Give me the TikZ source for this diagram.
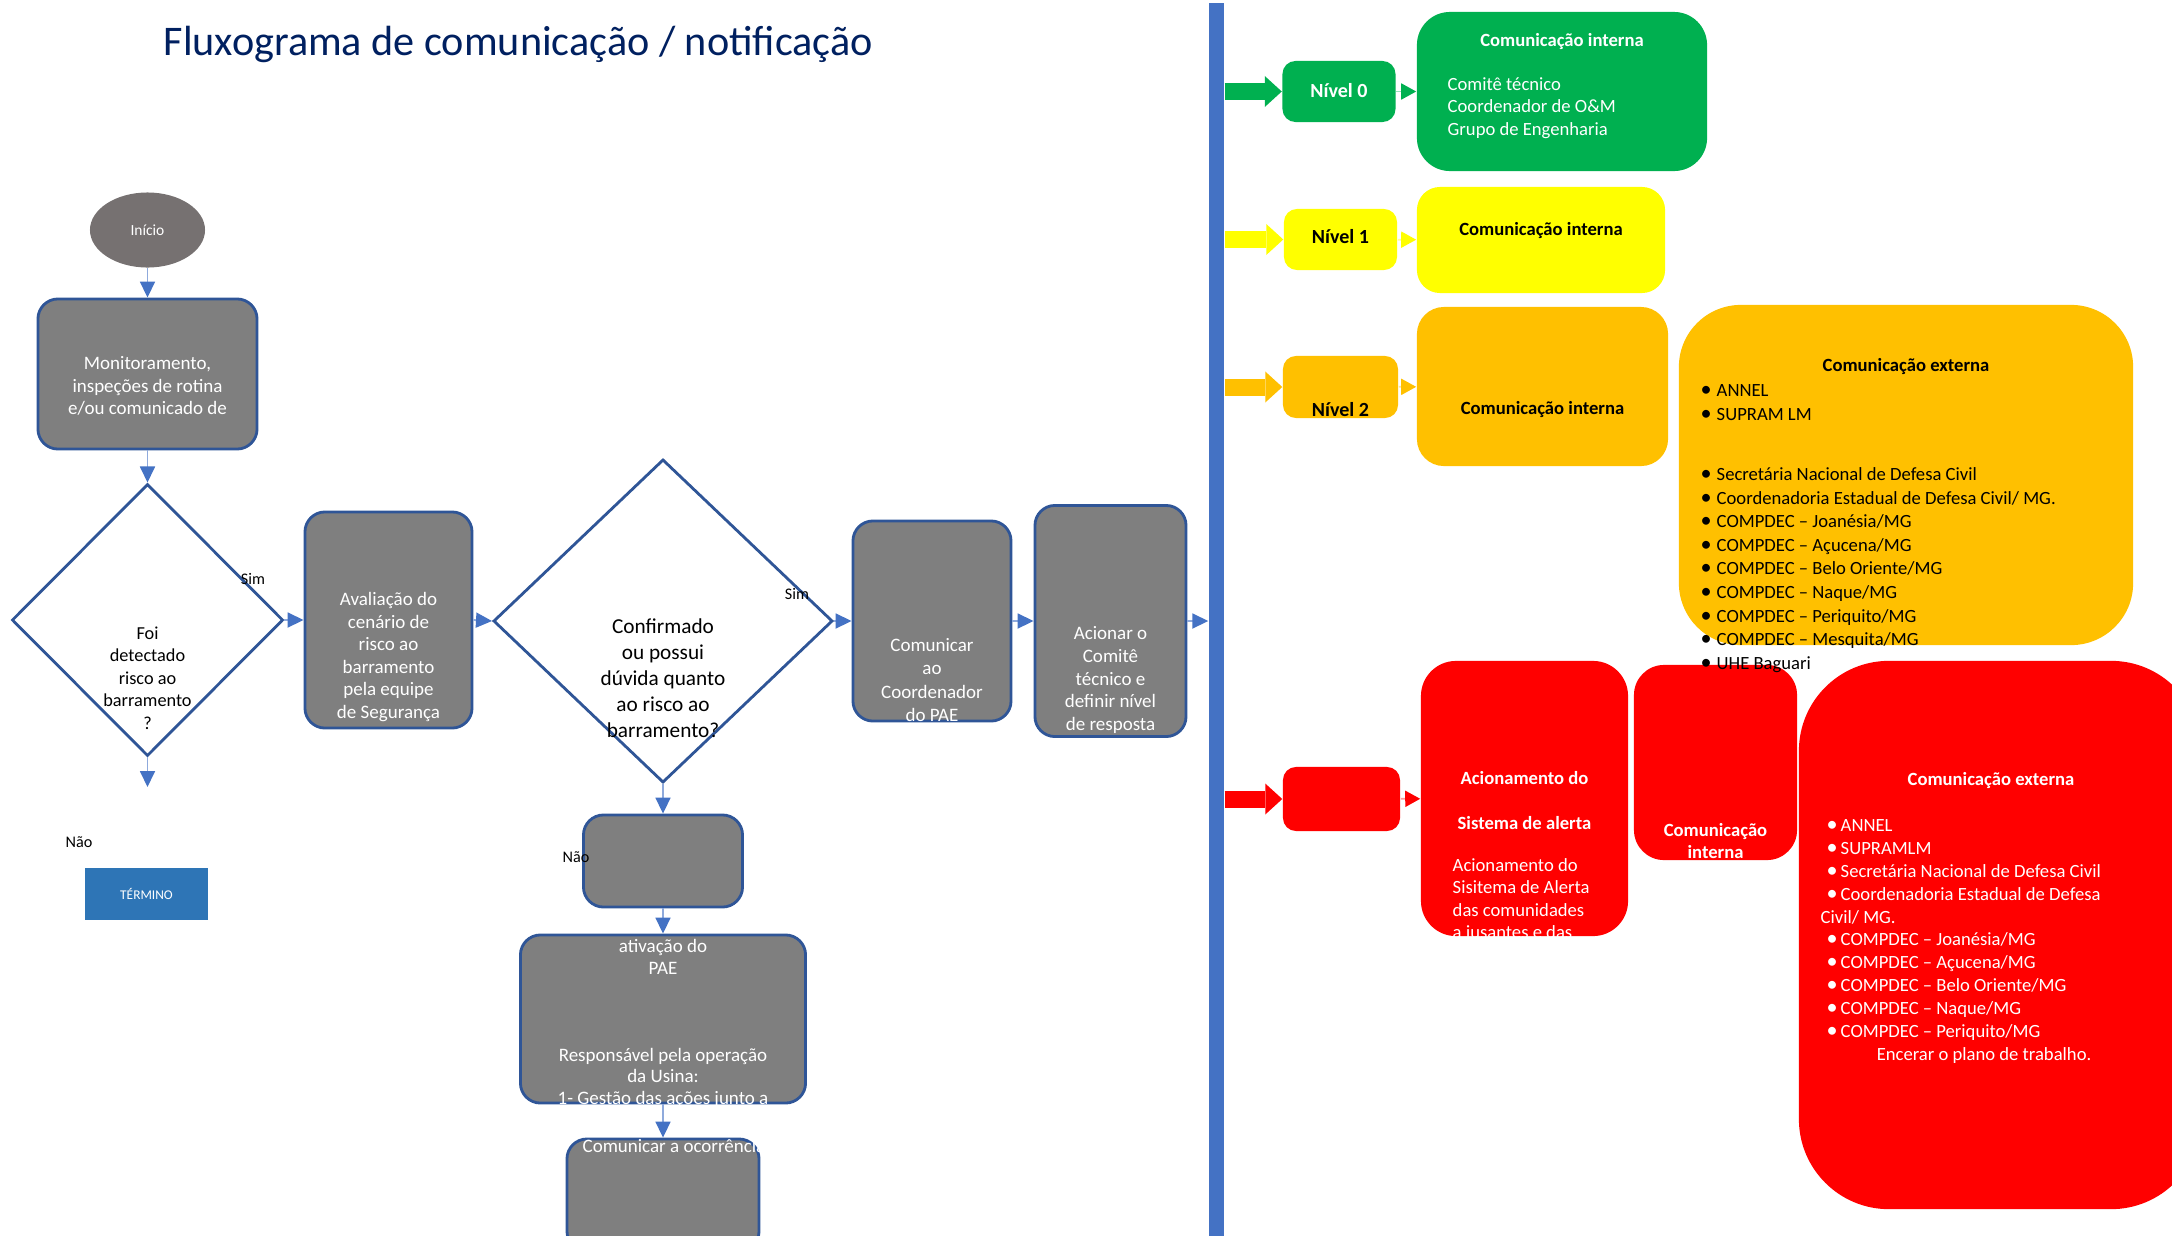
\documentclass[tikz,border=0pt]{standalone}
\usepackage{fontspec}
\setmainfont{Carlito}
\usepackage{xcolor}
\usepackage{tikz}
\usetikzlibrary{shapes.geometric, arrows.meta}
\definecolor{boxgray}{HTML}{7F7F7F}
\definecolor{startgray}{HTML}{767171}
\definecolor{boxline}{HTML}{2F5597}
\definecolor{flowblue}{HTML}{4472C4}
\definecolor{endblue}{HTML}{2E75B6}
\definecolor{titleblue}{HTML}{002060}
\definecolor{lvlgreen}{HTML}{00B050}
\definecolor{lvlyellow}{HTML}{FFFF00}
\definecolor{lvlorange}{HTML}{FFC000}
\definecolor{lvlred}{HTML}{FF0000}
\newcommand{\txtsize}[2]{\fontsize{#1}{#2}\selectfont}
\newcommand{\bul}[1]{\makebox[#1][l]{{\fontsize{6.3}{6.3}\selectfont •}}}

\begin{document}
\begin{tikzpicture}[x=0.01cm, y=-0.01cm,
  box/.style={rectangle, draw=boxline, line width=0.8pt, fill=boxgray, rounded corners=0.2cm, inner sep=0},
  decision/.style={diamond, draw=boxline, line width=0.8pt, fill=white, inner sep=0},
  flow/.style={draw=flowblue!60, line width=0.5pt, -{Triangle[length=0.16cm, width=0.15cm, color=flowblue]}},
  wtxt/.style={text=white, align=center, inner sep=0, font=\txtsize{5.4}{6.5}},
  btxt/.style={text=black, align=center, inner sep=0},
  tag/.style={inner sep=0, font=\txtsize{4.6}{5}},
  lvlbox/.style={rectangle, fill=#1, rounded corners=0.13cm, inner sep=0, minimum width=1.13cm, minimum height=0.61cm},
  lvlarrow/.style={draw=#1, line width=0.17cm, -{Triangle[length=0.17cm, width=0.31cm, line width=0pt]}},
  lvllink/.style={draw=#1!40, line width=0.5pt, -{Triangle[length=0.15cm, width=0.16cm, color=#1]}},
  head/.style={inner sep=0, align=center, font=\bfseries\txtsize{5.3}{6.3}},
  list/.style={inner sep=0, align=left, anchor=west, font=\txtsize{5.3}{6.7}}]
  \path[use as bounding box, fill=white] (0,0) rectangle (2172,1236);

  \node[text=titleblue, anchor=base west, inner sep=0, font=\txtsize{12}{14}] (title) at (163,55) {Fluxograma de comunicação / notificação};

  \node[ellipse, fill=startgray, minimum width=1.15cm, minimum height=0.75cm, inner sep=0, text=white, font=\txtsize{4.4}{5}] (inicio) at (147.5,230) {Início};
  \node[box, minimum width=2.19cm, minimum height=1.5cm] (monit) at (147.5,374) {};
  \node[wtxt] (monitt) at (147.5,386) {Monitoramento,\\inspeções de rotina\\e/ou comunicado de};
  \node[decision, minimum width=2.71cm, minimum height=2.72cm] (dec1) at (147.5,620) {};
  \node[btxt, font=\txtsize{5.2}{6.4}] (dec1t) at (147.5,678) {Foi\\detectado\\risco ao\\barramento\\?};
  \node[tag] (sim1) at (253,579) {Sim};
  \coordinate (fim) at (147.5,787);
  \node[tag] (nao1) at (79,842) {Não};
  \node[rectangle, fill=endblue, minimum width=1.23cm, minimum height=0.52cm, inner sep=0, text=white, font=\txtsize{3.8}{4}] (termino) at (146.5,894) {TÉRMINO};

  \node[box, minimum width=1.67cm, minimum height=2.16cm] (aval) at (388.5,620) {};
  \node[wtxt, font=\txtsize{5.4}{6.4}] (avalt) at (388.5,657) {Avaliação do\\cenário de\\risco ao\\barramento\\pela equipe\\de Segurança};
  \node[decision, minimum width=3.39cm, minimum height=3.23cm] (dec2) at (663,621) {};
  \node[btxt, font=\txtsize{6.05}{7.4}] (dec2t) at (663,678) {Confirmado\\ou possui\\dúvida quanto\\ao risco ao\\barramento?};
  \node[tag] (sim2) at (797,594) {Sim};
  \node[box, minimum width=1.58cm, minimum height=2cm] (comun) at (932,621) {};
  \node[wtxt, font=\txtsize{5.4}{6.6}] (comunt) at (932,680) {Comunicar\\ao\\Coordenador\\do PAE};
  \node[box, minimum width=1.51cm, minimum height=2.31cm] (acion) at (1110.5,621) {};
  \node[wtxt] (aciont) at (1110.5,680) {Acionar o\\Comitê\\técnico e\\definir nível\\de resposta};

  \node[box, minimum width=1.59cm, minimum height=0.92cm] (empty) at (663,861) {};
  \node[tag] (nao2) at (576,857) {Não};
  \node[box, minimum width=2.85cm, minimum height=1.68cm] (pae) at (663,1019) {};
  \node[wtxt, font=\txtsize{5.4}{6.3}] (paet) at (663,957) {ativação do\\PAE};
  \node[wtxt, font=\txtsize{5.4}{6.1}] (paeresp) at (663,1078) {Responsável pela operação\\da Usina:\\1- Gestão das ações junto a};
  \node[box, minimum width=1.92cm, minimum height=1.12cm] (ocorr) at (663,1195) {};
  \node[wtxt] (ocorrt) at (674,1146) {Comunicar a ocorrência};

  \node[rectangle, fill=flowblue, minimum width=0.15cm, minimum height=12.33cm, inner sep=0] (bar) at (1216.5,619.5) {};

  \draw[flow] (inicio) -- (monit);
  \draw[flow] (monit) -- (dec1);
  \draw[flow] (dec1.east) -- (aval.west);
  \draw[flow] (dec1.south) -- (fim);
  \draw[flow] (aval.east) -- (dec2.west);
  \draw[flow] (dec2.east) -- (comun.west);
  \draw[flow] (comun.east) -- (acion.west);
  \draw[flow] (acion.east) -- (acion.east -| bar.west);
  \draw[flow] (dec2.south) -- (empty.north);
  \draw[flow] (empty.south) -- (pae.north);
  \draw[flow] (pae.south) -- (ocorr.north);

  \node[lvlbox=lvlgreen] (lvl0) at (1339,91.5) {};
  \node[head, text=white, font=\bfseries\txtsize{5.7}{6}] (lvl0t) at (1339,91) {Nível 0};
  \node[rectangle, fill=lvlgreen, rounded corners=0.33cm, minimum width=2.9cm, minimum height=1.59cm] (int0) at (1562,91.5) {};
  \node[head, text=white] (int0t) at (1562,42) {Comunicação interna};
  \node[list, text=white, font=\txtsize{5.3}{6.4}] (int0l) at (1447,108) {Comitê técnico\\Coordenador de O\&M\\Grupo de Engenharia};

  \node[lvlbox=lvlyellow] (lvl1) at (1340.5,239.5) {};
  \node[head, font=\bfseries\txtsize{5.7}{6}] (lvl1t) at (1340.5,237) {Nível 1};
  \node[rectangle, fill=lvlyellow, rounded corners=0.23cm, minimum width=2.48cm, minimum height=1.06cm] (int1) at (1541,240) {};
  \node[head] (int1t) at (1541,231) {Comunicação interna};

  \node[lvlbox=lvlorange, minimum width=1.15cm, minimum height=0.62cm] (lvl2) at (1340.5,387) {};
  \node[head, font=\bfseries\txtsize{5.7}{6}] (lvl2t) at (1340.5,410) {Nível 2};
  \node[rectangle, fill=lvlorange, rounded corners=0.27cm, minimum width=2.51cm, minimum height=1.59cm] (int2) at (1542.5,386.5) {};
  \node[head] (int2t) at (1542.5,410) {Comunicação interna};
  \node[rectangle, fill=lvlorange, rounded corners=0.62cm, minimum width=4.54cm, minimum height=3.4cm] (ext2) at (1906,475) {};

  \node[lvlbox=lvlred, minimum width=1.17cm, minimum height=0.64cm] (lvl3) at (1341.5,799) {};
  \node[rectangle, fill=lvlred, rounded corners=0.35cm, minimum width=2.07cm, minimum height=2.75cm] (alerta) at (1524.5,798.5) {};
  \node[head, text=white] (alertah1) at (1524.5,778) {Acionamento do};
  \node[head, text=white] (alertah2) at (1524.5,823) {Sistema de alerta};
  \node[list, text=white, font=\txtsize{5.3}{6.4}] (alertal) at (1452,900) {Acionamento do\\Sisitema de Alerta\\das comunidades\\a jusantes e das};
  \node[rectangle, fill=lvlred, rounded corners=0.3cm, minimum width=1.63cm, minimum height=1.95cm] (int3) at (1715.5,762.5) {};
  \node[head, text=white, font=\bfseries\txtsize{5.3}{6.2}] (int3t) at (1715.5,841) {Comunicação\\interna};
  \node[rectangle, fill=lvlred, rounded corners=0.9cm, minimum width=4.02cm, minimum height=5.48cm] (ext3) at (2000,935) {};
  \node[head, text=white] (ext3t) at (1991,781) {Comunicação externa};
  \node[list, text=white, font=\txtsize{5.3}{6.5}] (ext3l) at (1820,941.5) {\hspace*{0.06cm}\bul{0.14cm}ANNEL\\\hspace*{0.06cm}\bul{0.14cm}SUPRAMLM\\\hspace*{0.06cm}\bul{0.14cm}Secretária Nacional de Defesa Civil\\\hspace*{0.06cm}\bul{0.14cm}Coordenadoria Estadual de Defesa\\Civil/ MG.\\\hspace*{0.06cm}\bul{0.14cm}COMPDEC – Joanésia/MG\\\hspace*{0.06cm}\bul{0.14cm}COMPDEC – Açucena/MG\\\hspace*{0.06cm}\bul{0.14cm}COMPDEC – Belo Oriente/MG\\\hspace*{0.06cm}\bul{0.14cm}COMPDEC – Naque/MG\\\hspace*{0.06cm}\bul{0.14cm}COMPDEC – Periquito/MG\\\hspace*{0.56cm}Encerar o plano de trabalho.};

  \node[head] (ext2t) at (1906,367) {Comunicação externa};
  \node[list] (ext2a) at (1700,402.5) {\bul{0.16cm}ANNEL\\\bul{0.16cm}SUPRAM LM};
  \node[list] (ext2b) at (1700,570) {\bul{0.16cm}Secretária Nacional de Defesa Civil\\\bul{0.16cm}Coordenadoria Estadual de Defesa Civil/ MG.\\\bul{0.16cm}COMPDEC – Joanésia/MG\\\bul{0.16cm}COMPDEC – Açucena/MG\\\bul{0.16cm}COMPDEC – Belo Oriente/MG\\\bul{0.16cm}COMPDEC – Naque/MG\\\bul{0.16cm}COMPDEC – Periquito/MG\\\bul{0.16cm}COMPDEC – Mesquita/MG\\\bul{0.16cm}UHE Baguari};

  \draw[lvlarrow=lvlgreen] (bar.east |- lvl0) -- (lvl0.west);
  \draw[lvlarrow=lvlyellow] (bar.east |- lvl1) -- (lvl1.west);
  \draw[lvlarrow=lvlorange] (bar.east |- lvl2) -- (lvl2.west);
  \draw[lvlarrow=lvlred] (bar.east |- lvl3) -- (lvl3.west);
  \draw[lvllink=lvlgreen] (lvl0) -- (int0);
  \draw[lvllink=lvlyellow] (lvl1) -- (int1);
  \draw[lvllink=lvlorange] (lvl2) -- (int2);
  \draw[lvllink=lvlred] (lvl3) -- (alerta);
\end{tikzpicture}
\end{document}
